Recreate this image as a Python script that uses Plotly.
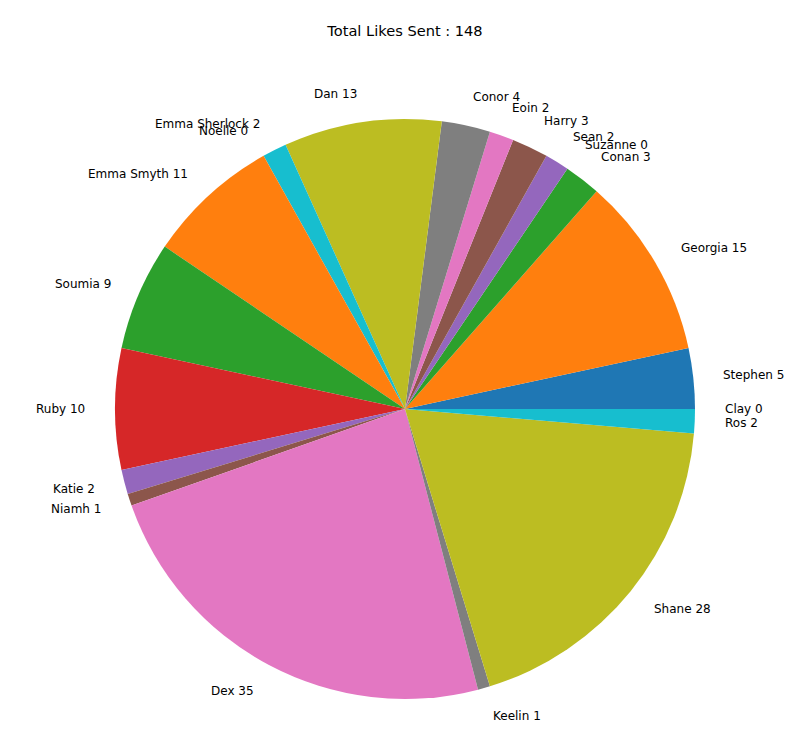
import math
import plotly.graph_objects as go

names = ["Stephen", "Georgia", "Conan", "Suzanne", "Sean", "Harry", "Eoin", "Conor",
         "Dan", "Emma Sherlock", "Noelle", "Emma Smyth", "Soumia", "Ruby", "Katie",
         "Niamh", "Dex", "Keelin", "Shane", "Ros", "Clay"]
likes = [5, 15, 3, 0, 2, 3, 2, 4, 13, 2, 0, 11, 9, 10, 2, 1, 35, 1, 28, 2, 0]
tab10 = ["#1f77b4", "#ff7f0e", "#2ca02c", "#d62728", "#9467bd",
         "#8c564b", "#e377c2", "#7f7f7f", "#bcbd22", "#17becf"]
colors = [tab10[i % 10] for i in range(len(names))]
total = sum(likes)

W, H = 810, 753
cx, cy = 405, 409      # pie centre in pixels (from top)
R = 290                # radius in pixels

# plotly (counterclockwise) places the first slice ending at `rotation`;
# shift so that the first slice starts at 3 o'clock like matplotlib
rotation = 90 - likes[0] / total * 360

fig = go.Figure(go.Pie(
    labels=names, values=likes, sort=False, direction="counterclockwise",
    rotation=rotation, marker=dict(colors=colors, line=dict(width=0)),
    textinfo="none", hoverinfo="label+value", showlegend=False,
    domain=dict(x=[(cx - R) / W, (cx + R) / W],
                y=[(H - cy - R) / H, (H - cy + R) / H]),
))

annotations = []
cum = 0
for n, v in zip(names, likes):
    theta = math.radians((cum + v / 2) / total * 360)
    cum += v
    px = cx + 1.1 * R * math.cos(theta)
    py = cy - 1.1 * R * math.sin(theta)
    annotations.append(dict(
        x=px / W, y=1 - py / H, xref="paper", yref="paper",
        text=f"{n} {v}", showarrow=False,
        xanchor="left" if math.cos(theta) > 0 else "right", yanchor="middle",
        font=dict(family="DejaVu Sans", size=12, color="black"), borderpad=0,
    ))

fig.update_layout(
    width=W, height=H, margin=dict(l=0, r=0, t=0, b=0),
    paper_bgcolor="white", plot_bgcolor="white",
    title=dict(text=f"Total Likes Sent : {total}", x=0.5, xanchor="center",
               y=1 - 31 / H, yanchor="middle", yref="container",
               font=dict(family="DejaVu Sans", size=14.6, color="black")),
    annotations=annotations,
    font=dict(family="DejaVu Sans"),
)
fig.write_html("out.html", config={"displayModeBar": False},
               post_script="document.body.style.margin='0';")
